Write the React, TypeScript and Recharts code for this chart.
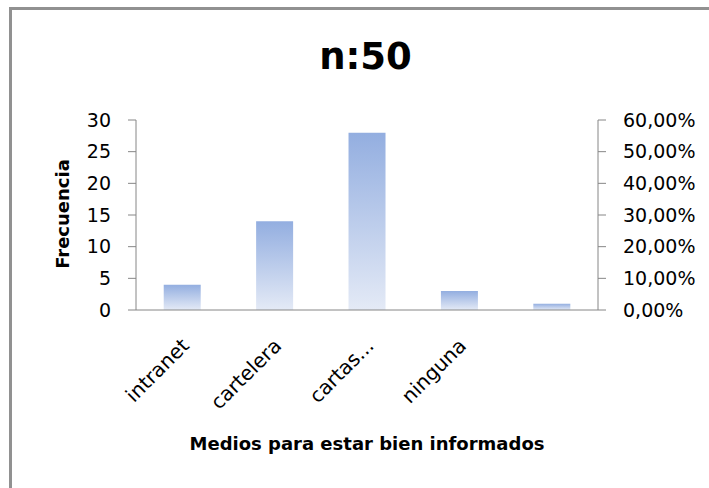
import { ComposedChart, Bar, Line, XAxis, YAxis } from 'recharts';

// Frecuencias por medio (n = 50)
const medios = ['intranet', 'cartelera', 'cartas...', 'ninguna', ''];
const frecuencias = [4, 14, 28, 3, 1];
const totalEncuestados = 50;
const ticksFrecuencia = [0, 5, 10, 15, 20, 25, 30];
const ticksPorcentaje = [0, 0.1, 0.2, 0.3, 0.4, 0.5, 0.6];
const limitesCategoria = [0, 1, 2, 3, 4, 5];

const data = medios.map((medio, i) => ({
    medio,
    frecuencia: frecuencias[i],
    porcentaje: frecuencias[i] / totalEncuestados,
}));

const FONT = '"DejaVu Sans", sans-serif';
const GRIS = '#868686';

const formatoPorcentaje = (v: number) => (v * 100).toFixed(2).replace('.', ',') + '%';

// etiqueta girada 45° que termina junto al centro de la categoría
function EtiquetaMedio(props: any) {
    const { x, y, payload } = props;
    const ax = x + 8;
    const ay = y + 36;
    return (
        <text
            x={ax}
            y={ay}
            transform={`rotate(-45, ${ax}, ${ay})`}
            textAnchor="end"
            fontFamily={FONT}
            fontSize={20}
            fill="#000"
        >
            {payload.value}
        </text>
    );
}

export default function App() {
    return (
        <div style={{ position: 'fixed', left: 0, top: 0, width: 709, height: 488, overflow: 'hidden', background: '#fff' }}>
            {/* marco del gráfico: solo bordes superior e izquierdo visibles */}
            <svg width={709} height={488} style={{ position: 'absolute', left: 0, top: 0 }}>
                <path d="M10.5,488 L10.5,8.5 L709,8.5" fill="none" stroke="#919191" strokeWidth={3} />
            </svg>
            <div
                style={{
                    position: 'absolute', left: 0, width: 709, top: 35, textAlign: 'center',
                    fontFamily: FONT, fontWeight: 'bold', fontSize: 37, color: '#000', paddingLeft: 22,
                    boxSizing: 'border-box',
                }}
            >
                n:50
            </div>
            <ComposedChart
                width={709}
                height={488}
                data={data}
                margin={{ top: 120, right: 11, left: 76, bottom: 77 }}
                barCategoryGap="30%"
                style={{ position: 'absolute', left: 0, top: 0 }}
            >
                <defs>
                    <linearGradient id="degradado" x1="0" y1="0" x2="0" y2="1">
                        <stop offset="0%" stopColor="#93aee0" />
                        <stop offset="100%" stopColor="#e4eaf6" />
                    </linearGradient>
                </defs>
                {/* marcas entre categorías */}
                <XAxis
                    xAxisId="limites"
                    type="number"
                    domain={[0, 5]}
                    ticks={limitesCategoria}
                    tick={false}
                    tickSize={7}
                    height={1}
                    axisLine={{ stroke: GRIS }}
                    tickLine={{ stroke: GRIS }}
                />
                <XAxis
                    xAxisId="medios"
                    dataKey="medio"
                    height={100}
                    axisLine={false}
                    tickLine={false}
                    tickSize={0}
                    tickMargin={0}
                    interval={0}
                    tick={<EtiquetaMedio />}
                />
                <YAxis
                    yAxisId="frecuencia"
                    domain={[0, 30]}
                    ticks={ticksFrecuencia}
                    width={60}
                    tickSize={8}
                    tickMargin={17}
                    axisLine={{ stroke: GRIS }}
                    tickLine={{ stroke: GRIS }}
                    tick={{ fontFamily: FONT, fontSize: 19, fill: '#000' }}
                />
                <YAxis
                    yAxisId="porcentaje"
                    orientation="right"
                    domain={[0, 0.6]}
                    ticks={ticksPorcentaje}
                    tickFormatter={formatoPorcentaje}
                    width={100}
                    tickSize={8}
                    tickMargin={17}
                    axisLine={{ stroke: GRIS }}
                    tickLine={{ stroke: GRIS }}
                    tick={{ fontFamily: FONT, fontSize: 19, fill: '#000' }}
                />
                <Bar
                    dataKey="frecuencia"
                    xAxisId="medios"
                    yAxisId="frecuencia"
                    fill="url(#degradado)"
                    isAnimationActive={false}
                />
                {/* serie de porcentaje: solo define la escala del eje derecho */}
                <Line
                    dataKey="porcentaje"
                    xAxisId="medios"
                    yAxisId="porcentaje"
                    stroke="none"
                    dot={false}
                    activeDot={false}
                    isAnimationActive={false}
                />
            </ComposedChart>
            <div
                style={{
                    position: 'absolute', left: 62, top: 214, transform: 'translate(-50%, -50%) rotate(-90deg)',
                    fontFamily: FONT, fontWeight: 'bold', fontSize: 18, color: '#000', whiteSpace: 'nowrap',
                }}
            >
                Frecuencia
            </div>
            <div
                style={{
                    position: 'absolute', left: 367, top: 443, transform: 'translate(-50%, -50%)',
                    fontFamily: FONT, fontWeight: 'bold', fontSize: 18, color: '#000', whiteSpace: 'nowrap',
                }}
            >
                Medios para estar bien informados
            </div>
        </div>
    );
}
